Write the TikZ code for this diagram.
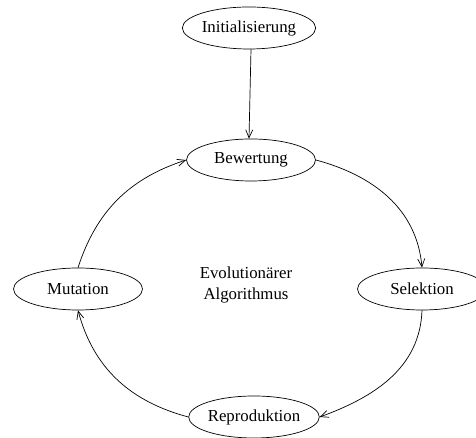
\documentclass[tikz,border=0pt]{standalone}
\usepackage{fontspec}
\setmainfont{Liberation Serif}
\usetikzlibrary{shapes.geometric,arrows.meta}
\begin{document}
\begin{tikzpicture}[x=1pt,y=1pt,
  stage/.style={draw, ellipse, line width=0.7pt, minimum width=129pt, minimum height=42pt, inner sep=0pt, font=\fontsize{16.8}{20.5}\selectfont},
  conn/.style={line width=0.7pt, -{Straight Barb[length=8pt,width=7pt]}},
  lbl/.style={align=center, font=\fontsize{16.8}{20.5}\selectfont}]
\useasboundingbox (0,0) rectangle (476,438);
\node[stage] (init) at (249,410) {Initialisierung};
\node[stage] (bew) at (251,278) {Bewertung};
\node[stage] (mut) at (78,149) {Mutation};
\node[stage] (sel) at (422,149) {Selektion};
\node[stage] (rep) at (254,21) {Reproduktion};
\node[lbl] (evo) at (246,153) {Evolutionärer\\Algorithmus};
\draw[conn] (init.south -| bew.north) -- (bew.north -| init.south);
\draw[conn] (bew.east) to[out=-15, in=95] (sel.north);
\draw[conn] (sel.south) to[out=-92, in=20] (rep.east);
\draw[conn] (rep.west) to[out=165, in=-75] (mut.south);
\draw[conn] (mut.north) to[out=72, in=198] (bew.west);
\end{tikzpicture}
\end{document}
